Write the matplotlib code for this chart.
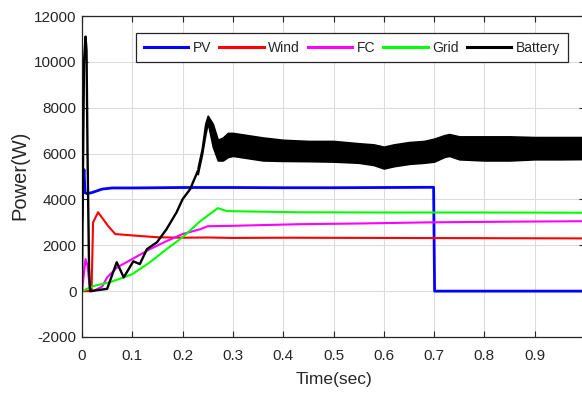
import matplotlib
matplotlib.use("Agg")
import matplotlib.pyplot as plt

# ---------------- data ----------------
pv_t = [0.0, 0.002, 0.004, 0.006, 0.010, 0.020, 0.040, 0.060, 0.10, 0.20, 0.30, 0.40, 0.50, 0.60, 0.699, 0.701, 0.80, 0.90, 1.0]
pv_p = [3200, 4700, 5300, 4300, 4250, 4300, 4450, 4500, 4500, 4520, 4520, 4510, 4510, 4520, 4530, 0, 0, 0, 0]

wind_t = [0.0, 0.019, 0.022, 0.032, 0.052, 0.066, 0.10, 0.15, 0.20, 0.25, 0.30, 0.40, 0.60, 0.80, 1.0]
wind_p = [0, 0, 3000, 3440, 2840, 2490, 2430, 2350, 2330, 2340, 2320, 2330, 2320, 2310, 2300]

fc_t = [0.0, 0.003, 0.007, 0.011, 0.016, 0.022, 0.040, 0.050, 0.070, 0.10, 0.135, 0.168, 0.20, 0.235, 0.25, 0.30, 0.433, 0.55, 0.69, 0.85, 1.0]
fc_p = [0, 600, 1400, 1100, 0, 0, 200, 600, 1040, 1400, 1830, 2180, 2490, 2700, 2830, 2850, 2920, 2950, 3000, 3030, 3050]

grid_t = [0.0, 0.022, 0.056, 0.10, 0.135, 0.168, 0.20, 0.235, 0.254, 0.27, 0.288, 0.433, 0.60, 0.80, 1.0]
grid_p = [0, 220, 390, 740, 1260, 1830, 2350, 3050, 3360, 3620, 3490, 3440, 3430, 3430, 3420]

bat_t = [0.0, 0.001, 0.004, 0.007, 0.009, 0.011, 0.014, 0.016, 0.050, 0.069, 0.083, 0.102, 0.115, 0.129, 0.149, 0.168, 0.188, 0.20, 0.215, 0.23]
bat_p = [0, 3000, 10000, 11100, 10500, 6000, 1000, 0, 100, 1260, 600, 1300, 1180, 1830, 2130, 2700, 3440, 4010, 4450, 5230]

band_t = [0.23, 0.238, 0.245, 0.25, 0.26, 0.27, 0.28, 0.29, 0.30, 0.33, 0.36, 0.40, 0.45, 0.50, 0.55, 0.58, 0.60, 0.62, 0.65, 0.68, 0.70, 0.72, 0.73, 0.75, 0.80, 0.85, 0.90, 0.95, 1.0]
band_hi = [5400, 6200, 7300, 7650, 7300, 6600, 6700, 6900, 6900, 6800, 6700, 6600, 6550, 6550, 6450, 6400, 6300, 6400, 6500, 6550, 6650, 6800, 6850, 6750, 6750, 6750, 6720, 6720, 6720]
band_lo = [5100, 5900, 6800, 7350, 6300, 5700, 5700, 5850, 5900, 5800, 5700, 5680, 5670, 5650, 5600, 5500, 5350, 5450, 5550, 5600, 5650, 5850, 5900, 5750, 5700, 5700, 5750, 5750, 5760]

labels = ["PV", "Wind", "FC", "Grid", "Battery"]
colors = ["#0000ff", "#ff0000", "#ff00ff", "#00ff00", "#000000"]
xticks = [0, 0.1, 0.2, 0.3, 0.4, 0.5, 0.6, 0.7, 0.8, 0.9]
xtick_labels = ["0", "0.1", "0.2", "0.3", "0.4", "0.5", "0.6", "0.7", "0.8", "0.9"]
yticks = [-2000, 0, 2000, 4000, 6000, 8000, 10000, 12000]

# ---------------- style ----------------
plt.rcParams["font.family"] = ["Liberation Sans", "DejaVu Sans"]
plt.rcParams["axes.unicode_minus"] = False

TXT = "#262626"
fig = plt.figure(figsize=(5.82, 3.96), dpi=100)
ax = fig.add_axes([82 / 582, 1 - 337 / 396, 503 / 582, 321 / 396])

ax.plot(pv_t, pv_p, color=colors[0], lw=2.0, label=labels[0], zorder=3)
ax.plot(wind_t, wind_p, color=colors[1], lw=1.5, label=labels[1], zorder=3)
ax.plot(fc_t, fc_p, color=colors[2], lw=1.5, label=labels[2], zorder=3)
ax.plot(grid_t, grid_p, color=colors[3], lw=1.5, label=labels[3], zorder=3)
ax.plot(bat_t, bat_p, color=colors[4], lw=1.7, label=labels[4], zorder=4)
ax.fill_between(band_t, band_lo, band_hi, color=colors[4], lw=1.2, edgecolor=colors[4], zorder=4)

ax.set_xlim(0, 1.0)
ax.set_ylim(-2000, 12000)
ax.set_xticks(xticks)
ax.set_xticklabels(xtick_labels)
ax.set_yticks(yticks)
ax.grid(True, color="#dcdcdc", lw=0.8)
ax.set_axisbelow(True)
ax.tick_params(direction="in", top=True, right=True, length=4, width=0.8,
               colors=TXT, labelsize=11, labelcolor=TXT)
ax.tick_params(axis="x", pad=9)
ax.tick_params(axis="y", pad=4)
for s in ax.spines.values():
    s.set_color(TXT)
    s.set_linewidth(0.9)

ax.set_xlabel("Time(sec)", fontsize=12.5, color=TXT, labelpad=6)
ax.set_ylabel("Power(W)", fontsize=14.5, color=TXT)
ax.yaxis.set_label_coords((29 - 82) / 503, 1 - (175 - 16) / 321)

leg = ax.legend(loc="upper left", bbox_to_anchor=((136 - 82) / 503, 1 - (33 - 16) / 321),
                ncol=5, frameon=True, fancybox=False, fontsize=10, borderaxespad=0,
                handlelength=3.2, handletextpad=0.35, columnspacing=0.55,
                borderpad=0.55, edgecolor="#262626", framealpha=1)
leg.get_frame().set_linewidth(0.9)
for h in leg.get_lines():
    h.set_linewidth(2.2)
for t in leg.get_texts():
    t.set_color(TXT)

fig.savefig("out.png", dpi=100)
